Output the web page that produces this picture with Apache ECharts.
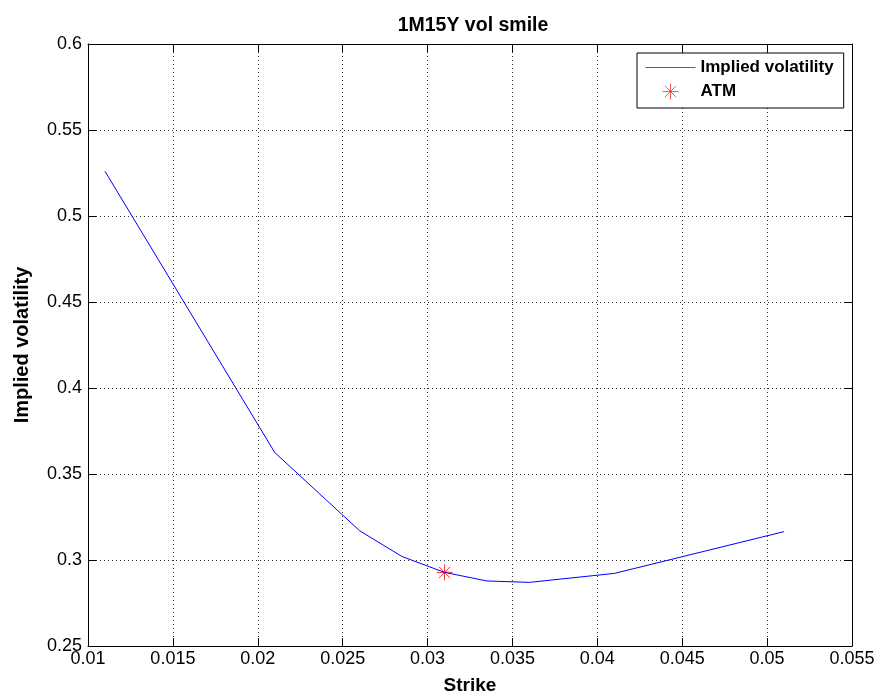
<!DOCTYPE html>
<html><head><meta charset="utf-8">
<script src="https://cdn.jsdelivr.net/npm/echarts@6/dist/echarts.min.js"></script>
<style>html,body{margin:0;padding:0;background:#fff}#c{width:878px;height:698px}</style>
</head><body><div id="c"></div>
<script>
var strikes = [0.011, 0.021, 0.026, 0.0285, 0.031, 0.0335, 0.036, 0.041, 0.051];
var vols    = [0.526, 0.3625, 0.317, 0.302, 0.2928, 0.2878, 0.2870, 0.2922, 0.3165];
var atmStrike = [0.031];
var atmVol = [0.2928];
var xTicks = {min: 0.01, max: 0.055, step: 0.005};
var yTicks = {min: 0.25, max: 0.6, step: 0.05};

var font = 'Liberation Sans, Arial, Helvetica, sans-serif';
var star = 'path://M0,5L10,5M5,0L5,10M1.5,1.5L8.5,8.5M8.5,1.5L1.5,8.5';
var fmt = function (v) { return String(+v.toFixed(4)); };
var chart = echarts.init(document.getElementById('c'), null, {renderer: 'canvas'});
var baseAxis = {
  type: 'value',
  axisLine: {show: true, onZero: false, lineStyle: {color: '#000', width: 1}},
  axisTick: {show: true, inside: true, length: 8, lineStyle: {color: '#000'}},
  splitLine: {show: false},
  axisLabel: {show: false}
};
function ax(o) { return echarts.util.merge(echarts.util.clone(baseAxis), o, true); }
var option = {
  animation: false,
  backgroundColor: '#fff',
  title: {
    text: '1M15Y vol smile', left: 468, top: 11, textAlign: 'center',
    textStyle: {fontFamily: font, fontSize: 19.5, fontWeight: 'bold', color: '#000'}
  },
  grid: {left: 88, right: 26, top: 44, bottom: 52, containLabel: false, outerBoundsMode: 'none'},
  legend: {
    left: 637, top: 53, orient: 'vertical',
    backgroundColor: '#fff', borderColor: '#000', borderWidth: 1,
    padding: [6, 10, 6, 8], itemGap: 5, itemWidth: 50, itemHeight: 16,
    textStyle: {fontFamily: font, fontSize: 17, fontWeight: 'bold', color: '#000'},
    data: [
      {name: 'Implied volatility',
       itemStyle: {color: 'rgba(0,0,0,0)', borderColor: 'rgba(0,0,0,0)', borderWidth: 0, opacity: 0},
       lineStyle: {color: '#4a4aff', width: 1}},
      {name: 'ATM', icon: star,
       itemStyle: {color: 'none', borderColor: '#ff3030', borderWidth: 1}}
    ]
  },
  xAxis: [
    ax({
      min: xTicks.min, max: xTicks.max, interval: xTicks.step,
      name: 'Strike', nameLocation: 'middle', nameGap: 30,
      nameTextStyle: {fontFamily: font, fontSize: 19, fontWeight: 'bold', color: '#000'},
      splitLine: {show: true, lineStyle: {color: '#333', type: [1, 3], width: 1}},
      axisLabel: {show: true, formatter: fmt, fontFamily: font, fontSize: 18, color: '#000', margin: 4}
    }),
    ax({position: 'top', min: xTicks.min, max: xTicks.max, interval: xTicks.step})
  ],
  yAxis: [
    ax({
      min: yTicks.min, max: yTicks.max, interval: yTicks.step,
      name: 'Implied volatility', nameLocation: 'middle', nameGap: 56,
      nameTextStyle: {fontFamily: font, fontSize: 20, fontWeight: 'bold', color: '#000'},
      splitLine: {show: true, lineStyle: {color: '#333', type: [1, 3], width: 1}},
      axisLabel: {show: true, formatter: fmt, fontFamily: font, fontSize: 18, color: '#000', margin: 6}
    }),
    ax({position: 'right', min: yTicks.min, max: yTicks.max, interval: yTicks.step})
  ],
  series: [
    {
      name: 'Implied volatility', type: 'line', symbol: 'none', showSymbol: false,
      color: '#0000ff',
      data: strikes.map(function (s, i) { return [s, vols[i]]; }),
      lineStyle: {color: '#0000ff', width: 1}, itemStyle: {color: '#0000ff'}
    },
    {
      name: 'ATM', type: 'scatter',
      symbol: star,
      symbolSize: 16,
      data: atmStrike.map(function (s, i) { return [s, atmVol[i]]; }),
      itemStyle: {color: 'none', borderColor: '#ff0000', borderWidth: 1}
    }
  ]
};
chart.setOption(option);
</script></body></html>
